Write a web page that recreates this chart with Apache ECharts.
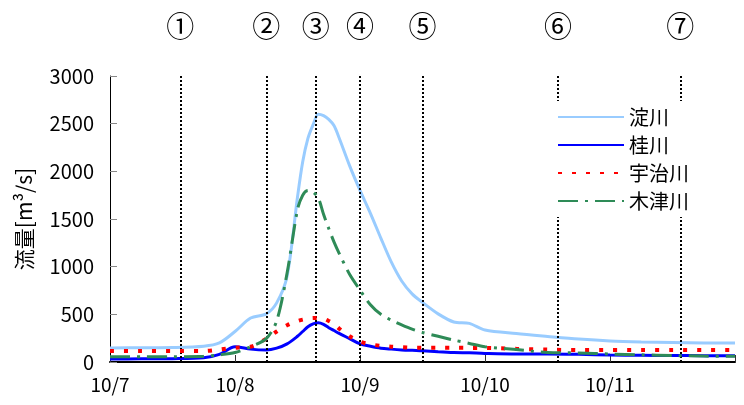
<!DOCTYPE html>
<html>
<head>
<meta charset="utf-8">
<script src="https://cdn.jsdelivr.net/npm/echarts@6/dist/echarts.min.js"></script>
<style>
  html, body { margin: 0; padding: 0; background: #fff; }
  #chart { width: 744px; height: 405px; }
</style>
</head>
<body>
<div id="chart"></div>
<script>
// hours since 10/7 00:00 (2009)
const hours = [0, 6, 12, 18, 21, 24, 27, 30, 32, 34, 36, 37, 38, 39, 40, 41, 42, 43, 44, 46, 48, 50, 52, 54, 56, 58, 60, 63, 66, 69, 72, 78, 84, 90, 96, 102, 108, 114, 120]

// 流量 m3/s
const yodo = [147, 150, 152, 165, 200, 320, 461, 505, 620, 900, 1730, 2100, 2345, 2490, 2600, 2585, 2545, 2480, 2350, 2060, 1800, 1560, 1300, 1050, 850, 715, 625, 505, 420, 405, 335, 298, 268, 240, 220, 210, 205, 200, 198]
const katsura = [31, 33, 35, 45, 80, 160, 135, 126, 145, 190, 270, 320, 370, 400, 412, 395, 360, 330, 300, 245, 190, 165, 145, 135, 127, 122, 118, 108, 100, 96, 90, 84, 84, 80, 73, 70, 68, 66, 65]
const uji = [115, 115, 115, 115, 130, 150, 160, 245, 320, 385, 430, 445, 455, 462, 462, 455, 430, 400, 350, 270, 213, 185, 170, 160, 155, 150, 150, 150, 149, 148, 148, 138, 130, 125, 125, 125, 125, 125, 125]
const kizu = [56, 56, 56, 60, 75, 100, 160, 245, 430, 933, 1600, 1750, 1800, 1780, 1720, 1550, 1400, 1260, 1140, 920, 755, 600, 500, 440, 390, 345, 310, 270, 230, 195, 160, 130, 100, 95, 84, 75, 68, 62, 60]

const xLabels = ['10/7', '10/8', '10/9', '10/10', '10/11']
const markerHours = [13.5, 30, 39.5, 48, 60, 86, 109.5]
const markerLabels = ['①', '②', '③', '④', '⑤', '⑥', '⑦']

const font = "'Noto Sans CJK JP', sans-serif"
const pair = (arr) => hours.map((h, i) => [h, arr[i]])

function lineSeries (name, arr, lineStyle, z) {
  return {
    name: name,
    type: 'line',
    data: pair(arr),
    smooth: 0.3,
    symbol: 'none',
    lineStyle: lineStyle,
    itemStyle: { color: lineStyle.color },
    z: z
  }
}

const series = [
  lineSeries('淀川', yodo, { color: '#99CCFF', width: 3 }, 3),
  lineSeries('桂川', katsura, { color: '#0000FF', width: 3 }, 4),
  lineSeries('宇治川', uji, { color: '#FF0000', width: 4, type: [4, 10] }, 5),
  lineSeries('木津川', kizu, { color: '#2E8B57', width: 3, type: [20, 7, 3, 7] }, 6)
]
series[0].markLine = {
  silent: true,
  symbol: 'none',
  lineStyle: { color: '#000', width: 2, type: [2, 2] },
  label: {
    position: 'end',
    distance: 36,
    fontSize: 28,
    color: '#000',
    fontFamily: font,
    formatter: (p) => p.name
  },
  data: markerHours.map((h, i) => ({ name: markerLabels[i], xAxis: h }))
}

const chart = echarts.init(document.getElementById('chart'))
chart.setOption({
  animation: false,
  textStyle: { fontFamily: font },
  grid: { left: 110, right: 9, top: 76, bottom: 43 },
  legend: {
    z: 20,
    orient: 'vertical',
    left: 549,
    top: 101,
    itemWidth: 66,
    itemHeight: 14,
    itemGap: 8,
    padding: [6, 12, 6, 8],
    backgroundColor: '#fff',
    itemStyle: { opacity: 0 },
    textStyle: { fontSize: 20, color: '#000', fontFamily: font },
    data: ['淀川', '桂川', '宇治川', '木津川']
  },
  xAxis: {
    type: 'value',
    min: 0,
    max: 120,
    interval: 24,
    axisLine: { lineStyle: { color: '#000', width: 2 } },
    axisTick: { inside: true, length: 7, lineStyle: { color: '#333' } },
    splitLine: { show: false },
    axisLabel: {
      color: '#000',
      fontSize: 19,
      margin: 13,
      formatter: (v) => xLabels[v / 24] || ''
    }
  },
  yAxis: {
    type: 'value',
    min: 0,
    max: 3000,
    interval: 500,
    name: '流量[m³/s]',
    nameLocation: 'middle',
    nameGap: 75,
    nameTextStyle: { fontSize: 21, color: '#000' },
    axisLine: { show: true, lineStyle: { color: '#000', width: 1 } },
    axisTick: { inside: true, length: 7, lineStyle: { color: '#888' } },
    splitLine: { show: false },
    axisLabel: { color: '#000', fontSize: 20, margin: 16, formatter: (v) => String(v) }
  },
  series: series
})
</script>
</body>
</html>
